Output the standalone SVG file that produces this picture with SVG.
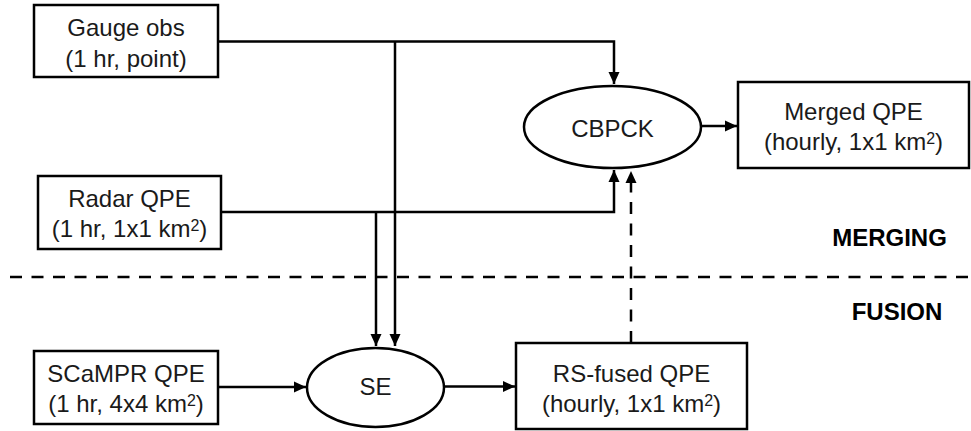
<svg xmlns="http://www.w3.org/2000/svg" width="971" height="431" viewBox="0 0 971 431">
  <style>
    .box { fill: #ffffff; stroke: #000000; stroke-width: 2.5; }
    .ell { fill: #ffffff; stroke: #000000; stroke-width: 2.5; }
    .lbl { font-family: "Liberation Sans", Arial, sans-serif; font-size: 24px; fill: #1a1a1a; text-anchor: middle; }
    .sec { font-family: "Liberation Sans", Arial, sans-serif; font-size: 24px; font-weight: bold; fill: #000000; text-anchor: middle; }
    .conn { fill: none; stroke: #000000; stroke-width: 2.5; }
    .dash { fill: none; stroke: #000000; stroke-width: 2.5; stroke-dasharray: 12 9.5; }
    .sup { font-size: 16px; }
  </style>
  <defs>
    <marker id="arrow" markerUnits="userSpaceOnUse" markerWidth="14" markerHeight="14" viewBox="0 0 14 14" refX="12" refY="7" orient="auto">
      <path d="M0,1.5 L12,7 L0,12.5 Z" fill="#000000"/>
    </marker>
  </defs>

  <g id="connectors">
    <path class="conn" d="M218,41.5 H614 V84" marker-end="url(#arrow)"/>
    <path class="conn" d="M395,41.5 V346" marker-end="url(#arrow)"/>
    <path class="conn" d="M221,212 H614 V170" marker-end="url(#arrow)"/>
    <path class="conn" d="M376,212 V346" marker-end="url(#arrow)"/>
    <path class="conn" d="M218,387 H306" marker-end="url(#arrow)"/>
    <path class="conn" d="M444,386.5 H515" marker-end="url(#arrow)"/>
    <path class="conn" d="M701,126 H737" marker-end="url(#arrow)"/>
    <path class="dash" d="M631,343 V171" marker-end="url(#arrow)" stroke-dasharray="12 9"/>
    <path class="dash" d="M10,277 H971"/>
  </g>

  <g id="gauge">
    <rect class="box" x="34" y="5" width="184" height="72"/>
    <text class="lbl" x="126" y="36">Gauge obs</text>
    <text class="lbl" x="126" y="67">(1 hr, point)</text>
  </g>

  <g id="radar">
    <rect class="box" x="38" y="176" width="183" height="73"/>
    <text class="lbl" x="129.5" y="207">Radar QPE</text>
    <text class="lbl" x="129.5" y="237">(1 hr, 1x1 km<tspan class="sup" dy="-6">2</tspan><tspan dy="6">)</tspan></text>
  </g>

  <g id="scampr">
    <rect class="box" x="34" y="351" width="184" height="73"/>
    <text class="lbl" x="126" y="382">SCaMPR QPE</text>
    <text class="lbl" x="126" y="412">(1 hr, 4x4 km<tspan class="sup" dy="-6">2</tspan><tspan dy="6">)</tspan></text>
  </g>

  <g id="cbpck">
    <ellipse class="ell" cx="612.5" cy="127" rx="88.5" ry="41"/>
    <text class="lbl" x="612.5" y="137">CBPCK</text>
  </g>

  <g id="merged">
    <rect class="box" x="738" y="82" width="231" height="86"/>
    <text class="lbl" x="853.5" y="120">Merged QPE</text>
    <text class="lbl" x="853.5" y="150">(hourly, 1x1 km<tspan class="sup" dy="-6">2</tspan><tspan dy="6">)</tspan></text>
  </g>

  <g id="se">
    <ellipse class="ell" cx="375.5" cy="387.5" rx="68.5" ry="39.5"/>
    <text class="lbl" x="375.5" y="395">SE</text>
  </g>

  <g id="rsfused">
    <rect class="box" x="516" y="343" width="231" height="86"/>
    <text class="lbl" x="631.5" y="381.5">RS-fused QPE</text>
    <text class="lbl" x="631.5" y="411.5">(hourly, 1x1 km<tspan class="sup" dy="-6">2</tspan><tspan dy="6">)</tspan></text>
  </g>

  <g id="section-labels">
    <text class="sec" x="889.5" y="246">MERGING</text>
    <text class="sec" x="897" y="320">FUSION</text>
  </g>
</svg>
